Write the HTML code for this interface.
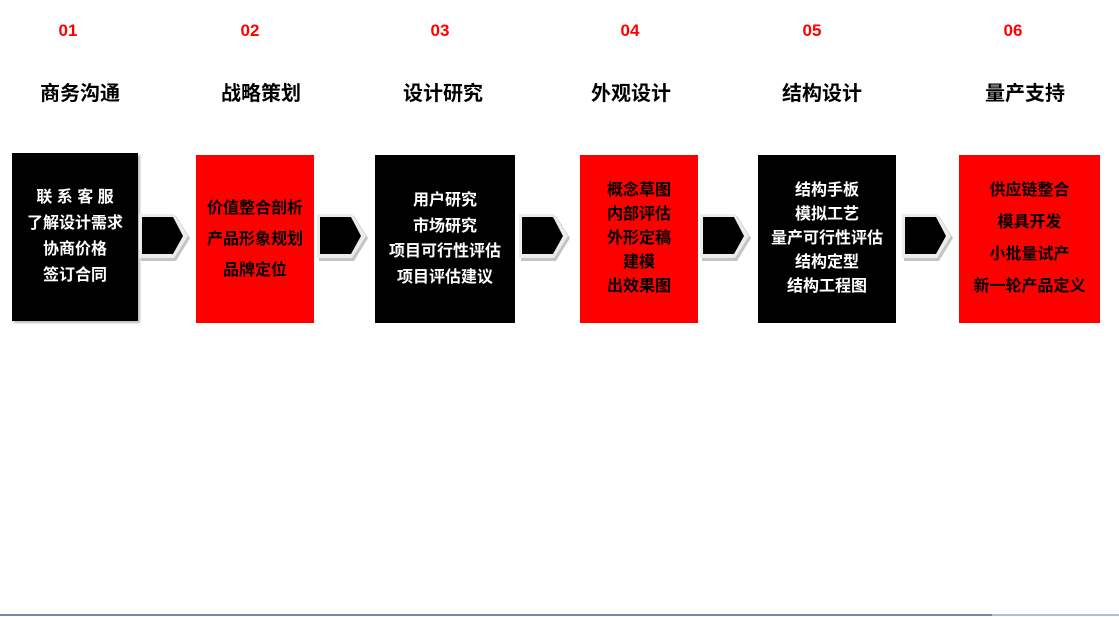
<!DOCTYPE html>
<html><head><meta charset="utf-8"><style>
body{margin:0;width:1119px;height:617px;background:#fff;position:relative;overflow:hidden;font-family:"Liberation Sans","Noto Sans CJK SC",sans-serif;font-weight:bold}
.n{position:absolute;top:21px;width:80px;margin-left:-40px;text-align:center;color:#f00;font-size:17px}
.t{position:absolute;top:77px;width:120px;margin-left:-60px;text-align:center;color:#000;font-size:20px}
.b{position:absolute;display:flex;flex-direction:column;justify-content:center;align-items:center;font-size:16px;white-space:nowrap}
.k{background:#000;color:#fff}.r{background:#f00;color:#000}
.a{position:absolute;top:212px}
</style></head><body>
<div class="n" style="left:68px">01</div><div class="n" style="left:250px">02</div><div class="n" style="left:440px">03</div><div class="n" style="left:630px">04</div><div class="n" style="left:812px">05</div><div class="n" style="left:1013px">06</div>
<div class="t" style="left:80px">商务沟通</div><div class="t" style="left:261px">战略策划</div><div class="t" style="left:443px">设计研究</div><div class="t" style="left:631px">外观设计</div><div class="t" style="left:822px">结构设计</div><div class="t" style="left:1025px">量产支持</div>

<div class="b k" style="left:12px;top:153px;width:126px;height:168px;line-height:26px;box-shadow:2px 2px 2px #bbb"><div>联&nbsp;系&nbsp;客&nbsp;服</div><div>了解设计需求</div><div>协商价格</div><div>签订合同</div></div>
<div class="b r" style="left:196px;top:155px;width:118px;height:168px;line-height:31px"><div>价值整合剖析</div><div>产品形象规划</div><div>品牌定位</div></div>
<div class="b k" style="left:375px;top:155px;width:140px;height:168px;line-height:25.5px"><div>用户研究</div><div>市场研究</div><div>项目可行性评估</div><div>项目评估建议</div></div>
<div class="b r" style="left:580px;top:155px;width:118px;height:168px;line-height:24px"><div>概念草图</div><div>内部评估</div><div>外形定稿</div><div>建模</div><div>出效果图</div></div>
<div class="b k" style="left:758px;top:155px;width:138px;height:168px;line-height:24px"><div>结构手板</div><div>模拟工艺</div><div>量产可行性评估</div><div>结构定型</div><div>结构工程图</div></div>
<div class="b r" style="left:959px;top:155px;width:141px;height:168px;line-height:32px"><div>供应链整合</div><div>模具开发</div><div>小批量试产</div><div>新一轮产品定义</div></div>

<svg class="a" style="left:138px" width="56" height="52"><polygon points="3,4 38,4 52,26 38,49 3,49" fill="#c4c4c4"/><polygon points="1,2 36,2 50,24 36,46 1,46" fill="#ececec"/><polygon points="4,5 35,5 45,24 35,42 4,42" fill="#000"/></svg>
<svg class="a" style="left:316px" width="56" height="52"><polygon points="3,4 38,4 52,26 38,49 3,49" fill="#c4c4c4"/><polygon points="1,2 36,2 50,24 36,46 1,46" fill="#ececec"/><polygon points="4,5 35,5 45,24 35,42 4,42" fill="#000"/></svg>
<svg class="a" style="left:518px" width="56" height="52"><polygon points="3,4 38,4 52,26 38,49 3,49" fill="#c4c4c4"/><polygon points="1,2 36,2 50,24 36,46 1,46" fill="#ececec"/><polygon points="4,5 35,5 45,24 35,42 4,42" fill="#000"/></svg>
<svg class="a" style="left:699px" width="56" height="52"><polygon points="3,4 38,4 52,26 38,49 3,49" fill="#c4c4c4"/><polygon points="1,2 36,2 50,24 36,46 1,46" fill="#ececec"/><polygon points="4,5 35,5 45,24 35,42 4,42" fill="#000"/></svg>
<svg class="a" style="left:901px" width="56" height="52"><polygon points="3,4 38,4 52,26 38,49 3,49" fill="#c4c4c4"/><polygon points="1,2 36,2 50,24 36,46 1,46" fill="#ececec"/><polygon points="4,5 35,5 45,24 35,42 4,42" fill="#000"/></svg>

<div style="position:absolute;left:0;top:614px;width:992px;height:2px;background:#6f8ab0"></div>
<div style="position:absolute;left:992px;top:614px;width:127px;height:2px;background:#a9bfdd"></div>
</body></html>
